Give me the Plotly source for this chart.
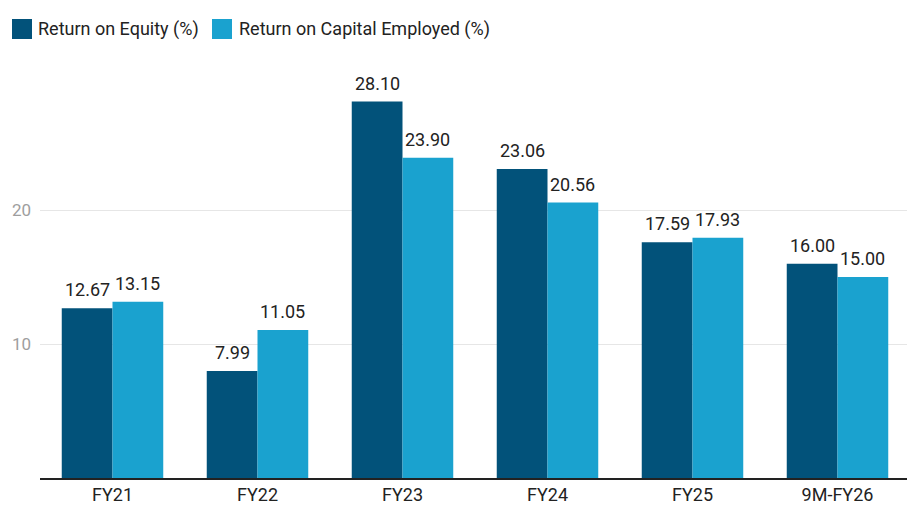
import plotly.graph_objects as go

categories = ["FY21", "FY22", "FY23", "FY24", "FY25", "9M-FY26"]
roe = [12.67, 7.99, 28.10, 23.06, 17.59, 16.00]
roce = [13.15, 11.05, 23.90, 20.56, 17.93, 15.00]
series_names = ["Return on Equity (%)", "Return on Capital Employed (%)"]
series_colors = ["#02527A", "#1AA2CF"]
y_ticks = [10, 20]

W, H = 915, 513
OFF = 8  # page body margin offset
ML, MR, MT, MB = 40 - OFF, W - 910 + OFF, 56 - OFF, H - 478 + OFF
PW, PH = W - ML - MR, H - MT - MB
BARGAP = 0.3
bar_px = PW / len(categories) * (1 - BARGAP) / 2


def px_x(p):
    return (p - OFF - ML) / PW


def px_y(p):
    return (H - MB - (p - OFF)) / PH


fig = go.Figure()
annotations = []
shapes = []
for i, (vals, name, col) in enumerate(zip([roe, roce], series_names, series_colors)):
    fig.add_trace(go.Bar(
        x=categories, y=vals, name=name,
        marker=dict(color=col, line=dict(width=0)),
        showlegend=False,
    ))
    shift = (-0.5 if i == 0 else 0.5) * bar_px
    for c, v in zip(categories, vals):
        annotations.append(dict(
            x=c, y=v, xref="x", yref="y", text=f"{v:.2f}", showarrow=False,
            xanchor="center", yanchor="bottom", xshift=shift, yshift=6,
            font=dict(size=18, color="#222222", family="Roboto"),
        ))

# custom legend (pixel-placed squares + labels)
legend_sq = [(12, 32), (212, 232)]
legend_txt = [37, 238]
for (x0, x1), tx, name, col in zip(legend_sq, legend_txt, series_names, series_colors):
    shapes.append(dict(type="rect", xref="paper", yref="paper",
                       x0=px_x(x0), x1=px_x(x1), y0=px_y(39), y1=px_y(19),
                       fillcolor=col, line=dict(width=0)))
    annotations.append(dict(x=px_x(tx - 1), y=px_y(29), xref="paper", yref="paper",
                            text=name, showarrow=False, xanchor="left", yanchor="middle",
                            font=dict(size=18, color="#222222", family="Roboto")))

fig.update_layout(
    width=W, height=H,
    margin=dict(l=ML, r=MR, t=MT, b=MB, autoexpand=False),
    paper_bgcolor="white", plot_bgcolor="white",
    font=dict(family="Roboto", size=16, color="#222222"),
    barmode="group", bargap=BARGAP, bargroupgap=0,
    showlegend=False,
    annotations=annotations, shapes=shapes,
    xaxis=dict(showline=True, linecolor="#222222", linewidth=1.5,
               tickfont=dict(size=18, color="#222222"), ticks="", showgrid=False,
               automargin=False),
    yaxis=dict(range=[0, 31.5], tickvals=y_ticks, showgrid=True, gridcolor="#e6e6e6",
               tickfont=dict(size=17, color="#9e9e9e"), zeroline=False, showline=False,
               ticks="", ticklabelstandoff=8, automargin=False),
)
fig.write_html("out.html")
